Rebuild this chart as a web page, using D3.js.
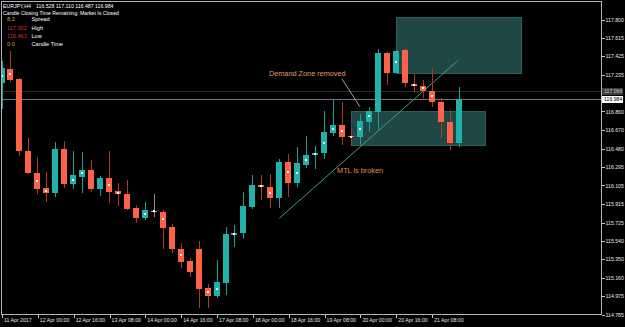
<!DOCTYPE html>
<html>

<head>
    <meta charset="utf-8">
    <style>
        html,
        body {
            margin: 0;
            padding: 0;
            background-color: #000000;
        }

        svg {
            display: block;
        }

        text {
            font-family: "Liberation Sans", Arial, sans-serif;
        }
    </style>
</head>

<body>
    <div id="chart"></div>

    <script src="https://d3js.org/d3.v7.min.js"></script>
    <script>
        // EURJPY H4 bars
        var times = [
            "2017.04.11 08:00", "2017.04.11 12:00", "2017.04.11 16:00", "2017.04.11 20:00",
            "2017.04.12 00:00", "2017.04.12 04:00", "2017.04.12 08:00", "2017.04.12 12:00",
            "2017.04.12 16:00", "2017.04.12 20:00", "2017.04.13 00:00", "2017.04.13 04:00",
            "2017.04.13 08:00", "2017.04.13 12:00", "2017.04.13 16:00", "2017.04.13 20:00",
            "2017.04.14 00:00", "2017.04.14 04:00", "2017.04.14 08:00", "2017.04.14 12:00",
            "2017.04.14 16:00", "2017.04.14 20:00", "2017.04.17 00:00", "2017.04.17 04:00",
            "2017.04.17 08:00", "2017.04.17 12:00", "2017.04.17 16:00", "2017.04.17 20:00",
            "2017.04.18 00:00", "2017.04.18 04:00", "2017.04.18 08:00", "2017.04.18 12:00",
            "2017.04.18 16:00", "2017.04.18 20:00", "2017.04.19 00:00", "2017.04.19 04:00",
            "2017.04.19 08:00", "2017.04.19 12:00", "2017.04.19 16:00", "2017.04.19 20:00",
            "2017.04.20 00:00", "2017.04.20 04:00", "2017.04.20 08:00", "2017.04.20 12:00",
            "2017.04.20 16:00", "2017.04.20 20:00", "2017.04.21 00:00", "2017.04.21 04:00",
            "2017.04.21 08:00", "2017.04.21 12:00", "2017.04.21 16:00", "2017.04.21 20:00"
        ];

        var opens = [
            117.143, 117.289, 117.184, 116.451, 116.226, 116.070, 116.025, 116.474,
            116.111, 116.188, 116.257, 116.066, 116.175, 116.042, 116.011, 115.865,
            115.769, 115.835, 115.828, 115.674, 115.449, 115.327, 115.452, 115.051,
            114.969, 115.105, 115.592, 115.616, 115.879, 116.103, 116.083, 115.974,
            116.339, 116.127, 116.308, 116.410, 116.427, 116.638, 116.717, 116.604,
            116.597, 116.750, 116.853, 117.449, 117.251, 117.483, 117.136, 117.115,
            117.067, 116.949, 116.747, 116.528
        ];

        var highs = [
            117.371, 117.473, 117.194, 116.581, 116.390, 116.236, 116.543, 116.553,
            116.451, 116.441, 116.359, 116.195, 116.451, 116.124, 116.155, 115.899,
            115.930, 116.011, 115.848, 115.702, 115.514, 115.354, 115.531, 115.092,
            115.334, 115.671, 115.698, 116.032, 116.206, 116.209, 116.216, 116.369,
            116.420, 116.492, 116.604, 116.502, 116.860, 116.972, 116.955, 116.686,
            116.829, 116.904, 117.490, 117.466, 117.483, 117.511, 117.251, 117.177,
            117.302, 116.990, 116.870, 117.110
        ];

        var lows = [
            116.880, 117.159, 116.400, 116.216, 116.015, 115.930, 115.984, 116.076,
            116.066, 116.019, 116.035, 115.994, 115.923, 115.892, 115.848, 115.718,
            115.746, 115.780, 115.452, 115.412, 115.258, 115.166, 114.849, 114.849,
            114.946, 114.979, 115.467, 115.555, 115.855, 115.950, 115.865, 115.865,
            115.984, 116.086, 116.274, 116.264, 116.369, 116.604, 116.512, 116.507,
            116.512, 116.648, 116.666, 117.125, 117.245, 117.102, 117.047, 116.990,
            116.904, 116.587, 116.463, 116.487
        ];

        var closes = [
            117.296, 117.177, 116.451, 116.226, 116.066, 116.025, 116.474, 116.111,
            116.203, 116.254, 116.066, 116.175, 116.035, 116.008, 115.855, 115.769,
            115.848, 115.835, 115.667, 115.449, 115.320, 115.214, 115.044, 114.969,
            115.112, 115.603, 115.616, 115.889, 116.103, 116.083, 115.974, 116.339,
            116.127, 116.331, 116.410, 116.427, 116.642, 116.717, 116.597, 116.594,
            116.758, 116.860, 117.456, 117.251, 117.473, 117.149, 117.115, 117.064,
            116.955, 116.744, 116.530, 116.984
        ];

        // small white indicator dots inside some bodies (null = none)
        var marks = [
            117.220, 117.235, null, null, 116.147, 116.047, null, null,
            116.155, 116.221, null, null, 116.105, 116.025, null, null,
            115.809, 115.835, 115.756, null, 115.391, null, null, 115.013,
            115.041, null, 115.603, null, null, 116.093, 116.025, null,
            116.236, 116.229, 116.359, 116.418, 116.536, 116.679, 116.658, 116.599,
            116.676, 116.809, null, null, 117.364, null, 117.125, 117.092,
            117.013, null, null, null
        ];

        var xTickTimes = [
            "2017.04.11 08:00", "2017.04.12 00:00", "2017.04.12 16:00", "2017.04.13 08:00",
            "2017.04.14 00:00", "2017.04.14 16:00", "2017.04.17 08:00", "2017.04.18 00:00",
            "2017.04.18 16:00", "2017.04.19 08:00", "2017.04.20 00:00", "2017.04.20 16:00",
            "2017.04.21 08:00"
        ];
        var xTickLabels = [
            "11 Apr 2017", "12 Apr 00:00", "12 Apr 16:00", "13 Apr 08:00",
            "14 Apr 00:00", "14 Apr 16:00", "17 Apr 08:00", "18 Apr 00:00",
            "18 Apr 16:00", "19 Apr 08:00", "20 Apr 00:00", "20 Apr 16:00",
            "21 Apr 08:00"
        ];

        var yTicks = [
            117.800, 117.615, 117.425, 117.235, 116.860, 116.670, 116.480, 116.295,
            116.105, 115.915, 115.725, 115.540, 115.350, 115.160, 114.975, 114.785
        ];

        // zones are given in bar index (may run past the last bar) and price
        var zones = [
            { from: 44, to: 58, top: 117.817, bottom: 117.245 },
            { from: 39, to: 54, top: 116.860, bottom: 116.512 }
        ];

        var bid = 116.984,
            ask = 117.066;

        var legendBar = "116.528 117.110 116.487 116.984";

        // establishing variables
        var width = 625,
            height = 327;

        var teal = "#20b2aa",
            tealWick = "#1b9f97",
            red = "#ff6347",
            redWick = "#a63c28";

        var xscale = d3.scaleLinear()
            .domain([0, times.length - 1])
            .range([1.5, 458.5]);

        var yscale = d3.scaleLinear()
            .domain([114.785, 117.8])
            .range([314, 19]);

        var svg = d3.select("#chart").append("svg")
            .attr("width", width)
            .attr("height", height)
            .style("background", "#000000");

        svg.append("clipPath")
            .attr("id", "plotClip")
            .append("rect")
            .attr("x", 1)
            .attr("y", 1)
            .attr("width", 600)
            .attr("height", 314);

        var plot = svg.append("g").attr("clip-path", "url(#plotClip)");

        // demand / supply zones
        plot.selectAll(".zone")
            .data(zones)
            .enter().append("rect")
            .attr("class", "zone")
            .attr("x", function (d) { return Math.round(xscale(d.from)) + 0.5 })
            .attr("y", function (d) { return Math.round(yscale(d.top)) + 0.5 })
            .attr("width", function (d) { return Math.round(xscale(d.to) - xscale(d.from)) })
            .attr("height", function (d) { return Math.round(yscale(d.bottom) - yscale(d.top)) })
            .attr("fill", "#1f4746")
            .attr("stroke", "#2a5e5b")
            .attr("shape-rendering", "crispEdges");

        // ask and bid lines
        plot.append("line")
            .attr("x1", 1).attr("x2", 601)
            .attr("y1", Math.round(yscale(ask)) + 0.5)
            .attr("y2", Math.round(yscale(ask)) + 0.5)
            .attr("stroke", "#2a2a2a")
            .attr("shape-rendering", "crispEdges");

        plot.append("line")
            .attr("x1", 1).attr("x2", 601)
            .attr("y1", Math.round(yscale(bid)) + 0.5)
            .attr("y2", Math.round(yscale(bid)) + 0.5)
            .attr("stroke", "#717884")
            .attr("shape-rendering", "crispEdges");

        // MTL trend line
        plot.append("line")
            .attr("x1", xscale(31)).attr("y1", yscale(115.763))
            .attr("x2", xscale(51)).attr("y2", yscale(117.381))
            .attr("stroke", "#45a07f")
            .attr("stroke-width", 1);

        var candles = times.map(function (t, i) {
            return { t: t, i: i, o: opens[i], h: highs[i], l: lows[i], c: closes[i], m: marks[i] };
        });

        function bodyColor(d) {
            if (d.o === d.c) return "#b0b0b0";
            return d.c > d.o ? teal : red;
        }

        function wickColor(d) {
            if (d.o === d.c) return "#8a8a8a";
            return d.c > d.o ? tealWick : redWick;
        }

        // wicks
        plot.selectAll(".wick")
            .data(candles)
            .enter().append("line")
            .attr("class", "wick")
            .attr("x1", function (d) { return Math.round(xscale(d.i)) + 0.5 })
            .attr("x2", function (d) { return Math.round(xscale(d.i)) + 0.5 })
            .attr("y1", function (d) { return Math.round(yscale(d.h)) })
            .attr("y2", function (d) { return Math.round(yscale(d.l)) })
            .attr("stroke", wickColor)
            .attr("shape-rendering", "crispEdges");

        // bodies
        plot.selectAll(".body")
            .data(candles)
            .enter().append("rect")
            .attr("class", "body")
            .attr("x", function (d) { return Math.round(xscale(d.i)) - 3 })
            .attr("y", function (d) { return Math.round(yscale(Math.max(d.o, d.c))) })
            .attr("width", 6)
            .attr("height", function (d) {
                return Math.max(1, Math.round(yscale(Math.min(d.o, d.c))) - Math.round(yscale(Math.max(d.o, d.c))))
            })
            .attr("fill", bodyColor)
            .attr("shape-rendering", "crispEdges");

        // white dots
        plot.selectAll(".mark")
            .data(candles.filter(function (d) { return d.m != null }))
            .enter().append("rect")
            .attr("class", "mark")
            .attr("x", function (d) { return Math.round(xscale(d.i)) - 1 })
            .attr("y", function (d) { return Math.round(yscale(d.m)) - 1 })
            .attr("width", 2)
            .attr("height", 2)
            .attr("fill", "#ffffff")
            .attr("shape-rendering", "crispEdges");

        // annotations
        plot.append("line")
            .attr("x1", xscale(38.0)).attr("y1", yscale(117.187))
            .attr("x2", xscale(40.0)).attr("y2", yscale(116.904))
            .attr("stroke", "#c9a68c")
            .attr("stroke-width", 0.9);

        plot.append("text")
            .attr("x", xscale(29.85))
            .attr("y", yscale(117.217))
            .attr("font-size", "7.3px")
            .attr("fill", "#e49a70")
            .text("Demand Zone removed");

        plot.append("text")
            .attr("x", xscale(37.45))
            .attr("y", yscale(116.221))
            .attr("font-size", "7.3px")
            .attr("fill", "#f0844c")
            .text("MTL is broken");

        // frame
        svg.append("rect")
            .attr("x", 1.5)
            .attr("y", 1.5)
            .attr("width", 600)
            .attr("height", 313)
            .attr("fill", "none")
            .attr("stroke", "#b4b4b4")
            .attr("shape-rendering", "crispEdges");

        // Add Y axis (price scale on the right)
        var y_axis = d3.axisRight()
            .scale(yscale)
            .tickValues(yTicks)
            .tickSize(3)
            .tickPadding(1)
            .tickFormat(d3.format(".3f"));

        svg.append("g")
            .attr("transform", "translate(601.5, 0.5)")
            .call(y_axis)
            .call(function (g) { g.select(".domain").remove() })
            .call(function (g) {
                g.selectAll("line").attr("stroke", "#c8c8c8").attr("shape-rendering", "crispEdges");
                g.selectAll("text")
                    .attr("fill", "#e8e8e8")
                    .attr("font-size", "5.2px")
                    .attr("font-family", "'Liberation Sans', Arial, sans-serif");
            });

        // price labels for ask and bid
        var priceTags = [
            { v: ask, bg: "#3c3c3c", fg: "#c8c8c8" },
            { v: bid, bg: "#ffffff", fg: "#000000" }
        ];
        var tags = svg.selectAll(".tag")
            .data(priceTags)
            .enter().append("g")
            .attr("class", "tag");
        tags.append("rect")
            .attr("x", 602)
            .attr("y", function (d) { return Math.round(yscale(d.v)) - 3 })
            .attr("width", 21)
            .attr("height", 7)
            .attr("fill", function (d) { return d.bg })
            .attr("shape-rendering", "crispEdges");
        tags.append("text")
            .attr("x", 604)
            .attr("y", function (d) { return Math.round(yscale(d.v)) + 0.5 })
            .attr("dy", "0.32em")
            .attr("font-size", "5.2px")
            .attr("fill", function (d) { return d.fg })
            .text(function (d) { return d.v.toFixed(3) });

        // Add X axis (time scale)
        var x_axis = d3.axisBottom()
            .scale(xscale)
            .tickValues(xTickTimes.map(function (t) { return times.indexOf(t) }))
            .tickSize(3)
            .tickFormat(function (d, i) { return xTickLabels[i] });

        svg.append("g")
            .attr("transform", "translate(0.5, 314.5)")
            .call(x_axis)
            .call(function (g) { g.select(".domain").remove() })
            .call(function (g) {
                g.selectAll("line").attr("stroke", "#c8c8c8").attr("shape-rendering", "crispEdges");
                g.selectAll("text")
                    .attr("text-anchor", "start")
                    .attr("x", 1.5)
                    .attr("y", 4)
                    .attr("fill", "#e8e8e8")
                    .attr("font-size", "5.2px")
                    .attr("font-family", "'Liberation Sans', Arial, sans-serif");
            });

        // top-left info block
        var info = svg.append("g").attr("font-size", "5.2px");

        info.append("text").attr("x", 3).attr("y", 8).attr("fill", "#ffffff").text("EURJPY,H4");
        info.append("text").attr("x", 36).attr("y", 8).attr("fill", "#ffffff").text(legendBar);
        info.append("text").attr("x", 3).attr("y", 15.3).attr("fill", "#ffffff")
            .text("Candle Closing Time Remaining: Market Is Closed");

        var infoRows = [
            { val: "8.2", color: "#d6a51e", label: "Spread" },
            { val: "117.302", color: "#d42c2c", label: "High" },
            { val: "116.463", color: "#d42c2c", label: "Low" },
            { val: "0:0", color: "#d6a51e", label: "Candle Time" }
        ];
        var rowY = [21.3, 30.3, 38.3, 46.3];

        infoRows.forEach(function (r, i) {
            info.append("text").attr("x", 7).attr("y", rowY[i]).attr("fill", r.color)
                .attr("font-size", "5.6px").text(r.val);
            info.append("text").attr("x", 31.5).attr("y", rowY[i]).attr("fill", "#ffffff")
                .attr("font-size", "5.6px").text(r.label);
        });
    </script>
</body>

</html>
